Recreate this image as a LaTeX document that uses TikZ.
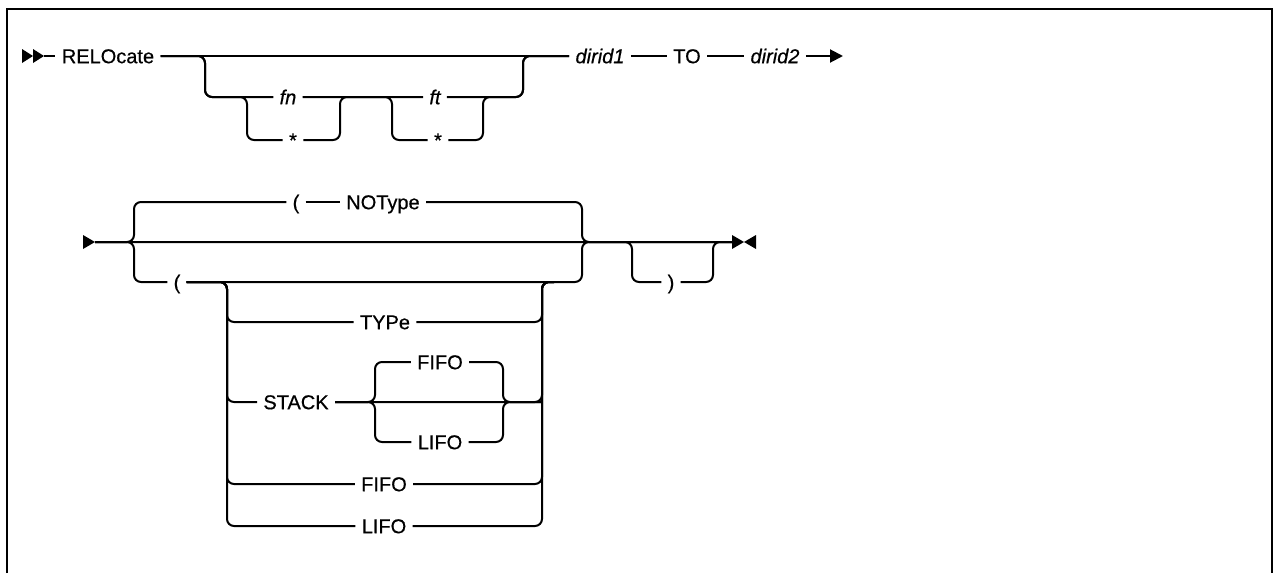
\documentclass[tikz,border=0pt]{standalone}
\usepackage{fontspec}
\setmainfont{Liberation Sans}
\newfontfamily\railfont{Liberation Sans}[FakeBold=0.5]
\usetikzlibrary{arrows.meta}
\tikzset{
  rail/.style={line width=1pt,rounded corners=3.5pt},
  kw/.style={inner xsep=3pt,inner ysep=0pt,text height=7.2pt,text depth=0pt,
    font=\railfont\fontsize{10}{12}\selectfont},
  var/.style={kw,font=\railfont\fontsize{10}{12}\selectfont\itshape},
}
\begin{document}
\begin{tikzpicture}[x=0.5pt,y=-0.5pt,>={Triangle[length=6.5pt,width=6.5pt]}]
  \useasboundingbox (0,0) rectangle (1274,573);
  \draw[line width=1.2pt] (7,573) |- (1272,9) -- (1272,573);
  % first line
  \node[kw] (reloc) at (108,56) {RELOcate};
  \node[var] (fn) at (288,97) {fn};
  \node[kw] (starA) at (293,140) {*};
  \node[var] (ft) at (435,97) {ft};
  \node[kw] (starB) at (438,140) {*};
  \node[var] (dirA) at (600,56) {dirid1};
  \node[kw] (to) at (687,56) {TO};
  \node[var] (dirB) at (775,56) {dirid2};
  \coordinate (r1in) at (44,56);
  \coordinate (r1end) at (843,56);
  \coordinate (optL) at (205,97);
  \coordinate (fnalt) at (247,140);
  \coordinate (fnjoin) at (340,97);
  \coordinate (ftalt) at (392,140);
  \coordinate (ftjoin) at (483,97);
  \coordinate (optR) at (523,56);
  \fill (22,49)--(33,56)--(22,63)--cycle;
  \fill (33,49)--(44,56)--(33,63)--cycle;
  \draw[rail] (r1in) -- (reloc.west);
  \draw[rail] (reloc.east) -- (dirA.west);
  \draw[rail] (reloc.east) -| (optL) -- (fn.west);
  \draw[rail] (reloc.east) -| (optL) -| (fnalt) -- (starA.west);
  \draw[rail] (fn.east) -- (ft.west);
  \draw[rail] (starA.east) -| (fnjoin) -- (ft.west);
  \draw[rail] (fn.east) -| (ftalt) -- (starB.west);
  \draw[rail] (ft.east) -| (optR) -- (dirA.west);
  \draw[rail] (starB.east) -| (ftjoin) -| (optR) -- (dirA.west);
  \draw[rail] (dirA.east) -- (to.west);
  \draw[rail] (to.east) -- (dirB.west);
  \draw[rail,->] (dirB.east) -- (r1end);
  % second line
  \node[kw] (lparA) at (296,202) {(};
  \node[kw] (notype) at (383,202) {NOType};
  \node[kw] (lparB) at (177,282) {(};
  \node[kw] (typeN) at (385,322) {TYPe};
  \node[kw] (fifoA) at (440,362) {FIFO};
  \node[kw] (stack) at (296,402) {STACK};
  \node[kw] (lifoA) at (440,442) {LIFO};
  \node[kw] (fifoB) at (384,484) {FIFO};
  \node[kw] (lifoB) at (384,526) {LIFO};
  \node[kw] (rpar) at (671,282) {)};
  \coordinate (r2in) at (95,242);
  \coordinate (r2end) at (733,242);
  \coordinate (grpT) at (134,202);
  \coordinate (grpB) at (134,282);
  \coordinate (grpR) at (582,242);
  \coordinate (inL) at (227,282);
  \coordinate (inR) at (542,282);
  \coordinate (inRr) at (554,282);
  \coordinate (subL) at (375,402);
  \coordinate (subR) at (503,402);
  \coordinate (rpL) at (632,282);
  \coordinate (rpR) at (713,242);
  \fill (83,235)--(95,242)--(83,249)--cycle;
  \draw[rail] (r2in) -- (r2end);
  \draw[rail] (r2in) -| (grpT) -- (lparA.west);
  \draw[rail] (lparA.east) -- (notype.west);
  \draw[rail] (notype.east) -| (grpR) -- (r2end);
  \draw[rail] (r2in) -| (grpB) -- (lparB.west);
  \draw[rail] (lparB.east) -| (grpR) -- (r2end);
  \foreach \n in {typeN,stack,fifoB,lifoB}{
    \draw[rail] (lparB.east) -| (inL |- \n.west) -- (\n.west);
    \draw[rail] (\n.east) -| (inR) -- (inRr);}
  \foreach \n in {fifoA,lifoA}{
    \draw[rail] (stack.east) -| (subL |- \n.west) -- (\n.west);
    \draw[rail] (\n.east) -| (subR) -- (inR |- subR);}
  \draw[rail] (r2in) -| (rpL) -- (rpar.west);
  \draw[rail] (rpar.east) -| (rpR) -- (r2end);
  \fill (732,235)--(744,242)--(732,249)--cycle;
  \fill (756,235)--(744,242)--(756,249)--cycle;
\end{tikzpicture}
\end{document}
